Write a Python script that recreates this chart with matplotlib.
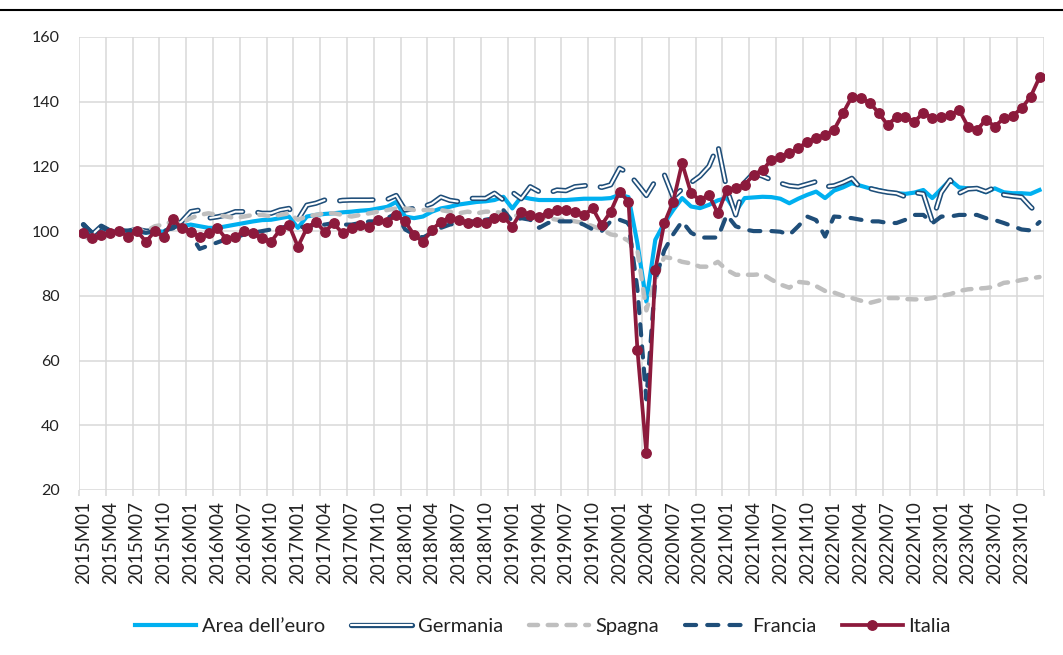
import numpy as np
import matplotlib
matplotlib.use("Agg")
import matplotlib.pyplot as plt
from matplotlib.lines import Line2D
from matplotlib.legend_handler import HandlerTuple

plt.rcParams['font.family'] = ['Lato', 'DejaVu Sans']
plt.rcParams['lines.scale_dashes'] = False

# categories: monthly, 2015M01 .. 2023M12
months = [f"{y}M{m:02d}" for y in range(2015, 2024) for m in range(1, 13)]

area_euro = [
    100, 99.5, 100, 100, 100, 99.5, 100, 99.5, 100, 99.8, 101.5, 101.5,
    102, 101.5, 101, 101, 101.5, 102, 102.5, 103, 103.4, 103.5, 104, 104.5,
    101, 104.5, 105, 105.3, 105.5, 105.8, 106, 106.3, 106.5, 107, 107.5, 109,
    104.5, 104, 104.5, 106, 107, 107.5, 108.2, 108.6, 109, 109.2, 109.6, 110.6,
    107, 110.6, 110, 109.6, 109.6, 109.6, 109.6, 109.8, 110, 110, 110, 110.2,
    111.2, 110.5, 96.2, 78.2, 97.3, 102.4, 106.5, 110.2, 107.6, 107.1, 108.1, 109.5,
    110.2, 106, 110.2, 110.4, 110.6, 110.5, 110, 108.6, 110, 111.2, 112.2, 110.2,
    112.5, 113.5, 114.8, 114, 113.2, 112.7, 112, 111.7, 111.5, 111.9, 112.7, 110.2,
    113, 115.8, 113.5, 113.2, 113, 112, 113.2, 112, 111.7, 111.7, 111.5, 112.7,
]

germania = [
    102, 99, 101.5, 100, 99.5, 100, 100.5, 100, 100, 100.5, 101, 103,
    106, 106.5, 104, 104.4, 105, 106, 106, 106, 105.5, 105.5, 106.5, 107,
    103.5, 108, 108.6, 109.6, 109.1, 109.5, 109.6, 109.6, 109.6, 109.7, 109.8, 111,
    106.5, 107, 107.5, 108.5, 110.5, 109.5, 109.1, 110.1, 110.1, 110.1, 111.7, 109.6,
    112, 110, 113.7, 112.2, 111.7, 112.7, 112.5, 113.7, 114, 114.3, 113.5, 114.3,
    119.4, 117.9, 114.5, 111, 115.5, 117.5, 110.5, 113, 115, 117, 120, 126.5,
    113, 105, 115, 117.9, 117, 115.8, 114.8, 114, 113.7, 114.5, 115.3, 113.7,
    114, 115, 116.3, 113.2, 113.2, 112.5, 112, 111.7, 110.6, 111.9, 111.5, 103,
    111.9, 115.8, 111.7, 113, 113.2, 112.2, 113.5, 111.2, 110.8, 110.5, 107.5, 105,
]

spagna = [
    99, 96.5, 99, 99.5, 100, 100, 100.5, 100, 101.5, 102, 103, 102.5,
    104, 105, 105.5, 105, 104.5, 104, 104.5, 105, 105, 104.5, 105, 105.5,
    103.5, 104.5, 105, 105.5, 105.5, 105, 104.5, 105, 105.5, 106, 106.5, 107,
    107, 106.5, 106.5, 106.5, 106.5, 106, 105.5, 106, 105.5, 106, 106, 105.5,
    105, 104.5, 104, 104, 104, 103.5, 103.5, 103, 102.5, 101.5, 100.5, 99,
    98.5, 97, 94, 75.5, 85, 92, 91.5, 90.5, 90, 89, 89, 90.5,
    88, 86.5, 86.5, 86.5, 86.7, 85, 83.5, 82.5, 84.3, 84, 83, 81.5,
    81, 80, 79.3, 78.5, 77.8, 78.5, 79.3, 79.3, 79, 78.9, 78.9, 79.3,
    80, 80.5, 81.5, 82, 82.2, 82.4, 82.8, 84, 84.3, 84.9, 85.4, 85.8,
]

francia = [
    102, 99.5, 101.5, 100, 100.5, 100, 100, 99.5, 100, 100, 101, 102.5,
    99, 94.5, 95.5, 96.5, 97.5, 98, 99, 99.5, 100, 100.5, 101, 101.5,
    101, 101.5, 102, 102, 102.5, 102, 102, 102.5, 103, 103, 104, 105.5,
    100.5, 99, 98, 99.5, 101, 102, 102.5, 103, 103, 103.5, 104, 106.5,
    103, 104, 103.5, 101, 102.5, 103, 103, 103, 102, 100.5, 100, 103,
    103.5, 102.5, 82, 48, 85, 94, 99, 103, 99.5, 98, 98, 98,
    105, 101.5, 100.5, 100, 100, 100, 99.8, 98.8, 101.5, 104.5, 103.4, 98.3,
    104.5, 104.3, 104, 103.5, 103, 103, 102.5, 102.5, 103.5, 105, 105, 102.4,
    104.5, 104.5, 105, 105, 105, 104, 103.4, 102.5, 101.5, 100.5, 100.2, 102.8,
]

italia = [
    99.3, 97.8, 98.8, 99.3, 100.1, 98.3, 100, 96.7, 100, 98.3, 103.7, 100.9,
    99.8, 98.3, 99.3, 100.9, 97.5, 98.3, 100, 99.3, 97.8, 96.7, 100.4, 101.9,
    95.2, 100.9, 102.9, 99.8, 102.4, 99.3, 100.9, 101.9, 101.4, 103.4, 102.9, 105,
    103, 98.8, 96.7, 100.4, 102.9, 104, 103.4, 102.4, 102.9, 102.4, 104, 104.5,
    101.4, 106, 105, 104.5, 105.5, 106.5, 106.5, 106, 105, 107, 101.9, 106,
    112.2, 109.1, 63.3, 31.3, 88, 102.4, 109.1, 121, 111.7, 109.6, 111.2, 105.5,
    112.7, 113.3, 114.3, 117.4, 118.9, 122, 123, 124, 125.6, 127.6, 128.7, 129.7,
    131.3, 136.4, 141.5, 141, 139.7, 136.5, 132.8, 135.3, 135.3, 133.8, 136.6, 135,
    135.2, 135.9, 137.4, 132.3, 131.3, 134.4, 132.3, 134.9, 135.6, 138, 141.5, 147.5,
]

c_euro = '#00B0F0'
c_navy = '#1F4E79'
c_gray = '#BFBFBF'
c_ita = '#8C1A3C'
c_grid = '#D9D9D9'

x = np.arange(len(months))

fig = plt.figure(figsize=(10.63, 6.55), dpi=100)
ax = fig.add_axes([0.0743, 0.252, 0.9078, 0.6916])

ax.plot(x, area_euro, color=c_euro, lw=3.0, solid_joinstyle='round', zorder=3)

# Germania: double line (navy outline, white core), broken
ax.plot(x, germania, color=c_navy, lw=3.8, dashes=(24, 11),
        dash_capstyle='round', dash_joinstyle='round', zorder=4)
ax.plot(x, germania, color='white', lw=1.5, dashes=(24, 11),
        dash_capstyle='round', dash_joinstyle='round', zorder=4.1)

ax.plot(x, spagna, color=c_gray, lw=3.2, dashes=(6.5, 7),
        dash_capstyle='round', zorder=5)
ax.plot(x, francia, color=c_navy, lw=3.0, dashes=(8, 8),
        dash_capstyle='round', zorder=6)
ax.plot(x, italia, color=c_ita, lw=2.7, marker='o', ms=6.8, zorder=7)

ax.set_xlim(-0.5, len(months) - 0.5)
ax.set_ylim(20, 160)
ax.set_yticks(np.arange(20, 161, 20))
ax.set_xticks(x[::3])
ax.set_xticklabels(months[::3], rotation=90, fontsize=13.5, color='#222222')
ax.set_xticks(np.arange(-0.5, len(months), 3), minor=True)
ax.tick_params(axis='y', length=0, labelsize=11.5, colors='#222222', pad=14)
ax.tick_params(axis='x', which='major', length=0, pad=8)
ax.tick_params(axis='x', which='minor', length=4, color=c_grid, width=1.1)

ax.grid(True, axis='y', color=c_grid, lw=1.1)
ax.grid(True, axis='x', which='minor', color=c_grid, lw=1.1)
ax.set_axisbelow(True)
for s in ax.spines.values():
    s.set_visible(False)

# legend
h_euro = Line2D([], [], color=c_euro, lw=3.0)
h_ger_o = Line2D([], [], color=c_navy, lw=3.8, solid_capstyle='round')
h_ger_i = Line2D([], [], color='white', lw=1.5, solid_capstyle='round')
h_spa = Line2D([], [], color=c_gray, lw=3.2, dashes=(6.5, 7), dash_capstyle='round')
h_fra = Line2D([], [], color=c_navy, lw=3.0, dashes=(8, 8), dash_capstyle='round')
h_ita = Line2D([], [], color=c_ita, lw=2.7, marker='o', ms=6.8)
fig.legend([h_euro, (h_ger_o, h_ger_i), h_spa, h_fra, h_ita],
           ['Area dell\u2019euro', 'Germania', 'Spagna', 'Francia', 'Italia'],
           handler_map={tuple: HandlerTuple(ndivide=1)},
           loc='center', bbox_to_anchor=(0.511, 0.043), ncol=5, frameon=False,
           fontsize=14.5, handlelength=3.0, handletextpad=0.3,
           columnspacing=1.3, numpoints=1, labelcolor='#222222')

# rule across the top
fig.add_artist(Line2D([0, 1], [0.985, 0.985], transform=fig.transFigure,
                      color='black', lw=1.5))

fig.savefig('out.png', dpi=100)
